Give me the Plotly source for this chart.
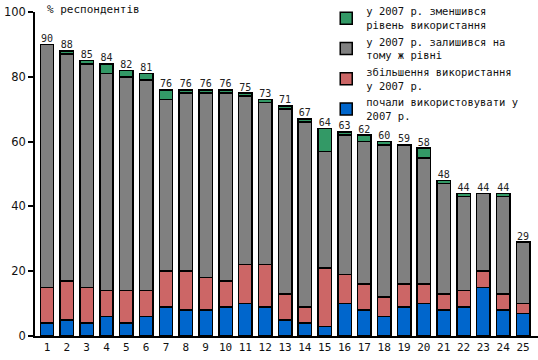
import plotly.graph_objects as go

categories = [str(i) for i in range(1, 26)]
blue_started = [4, 5, 4, 6, 4, 6, 9, 8, 8, 9, 10, 9, 5, 4, 3, 10, 8, 6, 9, 10, 8, 9, 15, 8, 7]
red_top = [15, 17, 15, 14, 14, 14, 20, 20, 18, 17, 22, 22, 13, 9, 21, 19, 16, 12, 16, 16, 13, 14, 20, 13, 10]
gray_top = [90, 87, 84, 81, 80, 79, 73, 75, 75, 75, 74, 72, 70, 66, 57, 62, 60, 59, 59, 55, 47, 43, 44, 43, 29]
totals = [90, 88, 85, 84, 82, 81, 76, 76, 76, 76, 75, 73, 71, 67, 64, 63, 62, 60, 59, 58, 48, 44, 44, 44, 29]

red_increase = [r - b for r, b in zip(red_top, blue_started)]
gray_same = [g - r for g, r in zip(gray_top, red_top)]
green_decrease = [t - g for t, g in zip(totals, gray_top)]

names = [
    "почали використовувати у<br>2007 р.",
    "збільшення використання<br>у 2007 р.",
    "у 2007 р. залишився на<br>тому ж рівні",
    "у 2007 р. зменшився<br>рівень використання",
]
colors = ["#0066CC", "#CC6666", "#808080", "#339966"]
series = [blue_started, red_increase, gray_same, green_decrease]

mono = "DejaVu Sans Mono"
fig = go.Figure()
for name, col, vals in zip(names, colors, series):
    fig.add_trace(go.Bar(
        x=categories, y=vals, name=name,
        marker=dict(color=col, line=dict(color="black", width=1.5)),
        width=0.68, hoverinfo="y+name",
    ))

fig.add_trace(go.Scatter(
    x=categories, y=totals, text=[str(t) for t in totals],
    mode="text", textposition="top center",
    textfont=dict(family=mono, size=10, color="#222222"),
    showlegend=False, hoverinfo="skip",
))

fig.update_layout(
    width=538, height=360,
    barmode="stack",
    plot_bgcolor="white", paper_bgcolor="white",
    margin=dict(l=35, r=0, t=12, b=24, autoexpand=False),
    bargap=0.3,
    legend=dict(
        x=0.579, y=1.043, xanchor="left", yanchor="top",
        font=dict(family=mono, size=10.5, color="#111111"),
        bgcolor="rgba(0,0,0,0)",
    ),
    xaxis=dict(
        type="category", range=[-0.605, 24.756],
        showline=True, linecolor="black", linewidth=1.5,
        ticks="", showgrid=False,
        tickfont=dict(family=mono, size=11, color="#111111"),
    ),
    yaxis=dict(
        range=[0, 100], tickvals=[0, 20, 40, 60, 80, 100],
        showline=True, linecolor="black", linewidth=1.5,
        ticks="outside", ticklen=5, tickcolor="black", tickwidth=1.5,
        showgrid=False, zeroline=False,
        tickfont=dict(family="DejaVu Sans", size=11.5, color="#111111"),
    ),
    annotations=[dict(
        text="% респондентів", xref="paper", yref="y",
        x=0.02, y=100, xanchor="left", yanchor="middle", yshift=3,
        showarrow=False, font=dict(family=mono, size=11, color="#111111"),
    )],
)

fig.write_html(
    "out.html",
    config={"displayModeBar": False},
    post_script="document.body.style.margin='0';document.body.style.overflow='hidden';",
)
